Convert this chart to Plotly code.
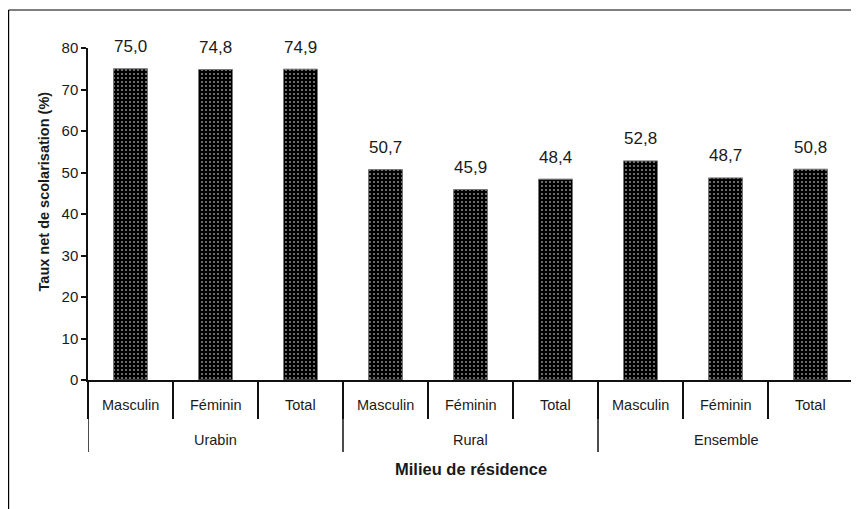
import plotly.graph_objects as go

groups = ["Urabin", "Urabin", "Urabin", "Rural", "Rural", "Rural", "Ensemble", "Ensemble", "Ensemble"]
sexes = ["Masculin", "Féminin", "Total"] * 3
values = [75.0, 74.8, 74.9, 50.7, 45.9, 48.4, 52.8, 48.7, 50.8]
y_ticks = [0, 10, 20, 30, 40, 50, 60, 70, 80]

keys = [f"{g}|{s}" for g, s in zip(groups, sexes)]
labels = [f"{v:.1f}".replace(".", ",") for v in values]
FONT = "Liberation Sans, Arial, sans-serif"
TXT = "#1a1a1a"
LINE = "#111"

fig = go.Figure()
fig.add_trace(go.Bar(
    x=keys,
    y=values,
    width=0.4,
    marker=dict(
        color="black",
        line=dict(color="#777", width=1),
        pattern=dict(shape=".", bgcolor="black", fgcolor="white", size=4, solidity=0.12, fillmode="replace"),
    ),
    hoverinfo="skip",
))

# value labels
for k, v, t in zip(keys, values, labels):
    fig.add_annotation(x=k, y=v, xref="x", yref="y", text=t, showarrow=False,
                       yanchor="middle", yshift=22, font=dict(family=FONT, size=17, color=TXT))

# inner category labels
for k, s in zip(keys, sexes):
    fig.add_annotation(x=k, y=-0.0753, xref="x", yref="paper", text=s, showarrow=False,
                       yanchor="middle", font=dict(family=FONT, size=14.5, color=TXT))

# group labels and dividers
n = len(keys)
bounds = [-0.5] + [i - 0.5 for i in range(1, n) if groups[i] != groups[i - 1]] + [n - 0.5]
for a, b in zip(bounds[:-1], bounds[1:]):
    mid = keys[int((a + b) / 2)]
    fig.add_annotation(x=mid, y=-0.1805, xref="x", yref="paper", text=groups[int(a + 0.5)], showarrow=False,
                       yanchor="middle", font=dict(family=FONT, size=14.5, color=TXT))
for b in bounds:
    fig.add_shape(type="line", xref="x", yref="paper", x0=b, x1=b, y0=0, y1=-0.217,
                  line=dict(color=LINE, width=1.5))

# axis titles
fig.add_annotation(x=0.5, y=-0.268, xref="paper", yref="paper", text="<b>Milieu de résidence</b>",
                   showarrow=False, xanchor="center", yanchor="middle",
                   font=dict(family=FONT, size=16.5, color=TXT))
fig.add_annotation(x=-0.0575, y=0.568, xref="paper", yref="paper", text="<b>Taux net de scolarisation (%)</b>",
                   showarrow=False, textangle=-90, xanchor="center", yanchor="middle",
                   font=dict(family=FONT, size=14.5, color=TXT))

# outer frame (cropped)
fig.add_shape(type="line", xref="paper", yref="paper", x0=-0.1038, x1=1.2, y0=1.1145, y1=1.1145,
              line=dict(color="black", width=1.2))
fig.add_shape(type="line", xref="paper", yref="paper", x0=-0.1038, x1=-0.1038, y0=1.1145, y1=-0.6,
              line=dict(color="black", width=1.2))

fig.update_layout(
    width=859, height=509,
    margin=dict(l=80, r=14, t=40, b=137, autoexpand=False),
    paper_bgcolor="white", plot_bgcolor="white",
    showlegend=False,
    font=dict(family=FONT, size=14, color=TXT),
    xaxis=dict(
        type="category", categoryorder="array", categoryarray=keys,
        range=[-0.5, n - 0.5],
        showline=True, linecolor=LINE, linewidth=1.5,
        ticks="outside", tickson="boundaries", ticklen=37, tickcolor=LINE, tickwidth=1.5,
        showticklabels=False, showgrid=False, automargin=False,
    ),
    yaxis=dict(
        range=[0, 80], tickvals=y_ticks,
        showline=True, linecolor=LINE, linewidth=1.5,
        ticks="outside", ticklen=5, tickcolor=LINE, tickwidth=1.5,
        showgrid=False, zeroline=False, automargin=False,
        tickfont=dict(family=FONT, size=15, color=TXT),
    ),
)

fig.write_html("out.html")
